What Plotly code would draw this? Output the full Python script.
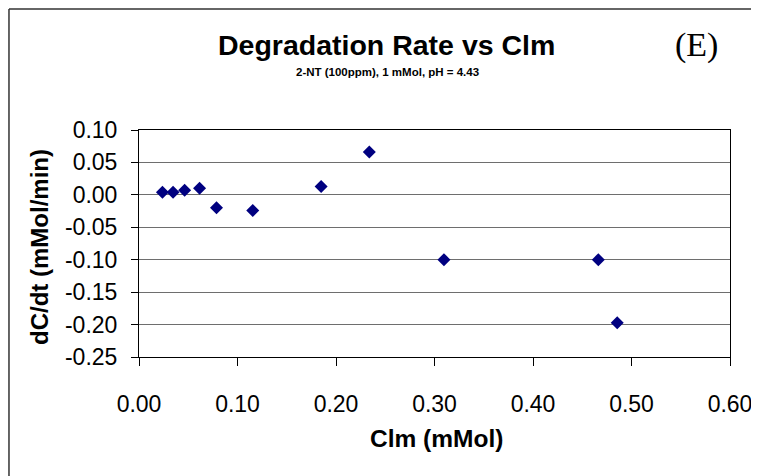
import plotly.graph_objects as go

clm = [0.0238, 0.0346, 0.0463, 0.0615, 0.0787, 0.1155, 0.1849, 0.2338, 0.3096, 0.4663, 0.4855]
rate = [0.004, 0.004, 0.007, 0.010, -0.020, -0.024, 0.013, 0.066, -0.100, -0.100, -0.197]
x_ticks = [0.0, 0.1, 0.2, 0.3, 0.4, 0.5, 0.6]
x_tick_text = ["0.00", "0.10", "0.20", "0.30", "0.40", "0.50", "0.60"]
y_ticks = [0.10, 0.05, 0.0, -0.05, -0.10, -0.15, -0.20, -0.25]
y_tick_text = ["0.10", "0.05", "0.00", "-0.05", "-0.10", "-0.15", "-0.20", "-0.25"]

FONT = "Liberation Sans, Arial, sans-serif"

fig = go.Figure()
fig.add_trace(go.Scatter(
    x=clm, y=rate, mode="markers",
    marker=dict(symbol="diamond", size=10, color="#000080"),
    showlegend=False,
))

border = dict(color="#333333", width=1.5)

fig.update_layout(
    width=751, height=468,
    margin=dict(l=131, r=29, t=122, b=119, autoexpand=False),
    paper_bgcolor="white", plot_bgcolor="white",
    font=dict(family=FONT, color="black"),
    xaxis=dict(
        range=[0, 0.6], tickvals=x_ticks, ticktext=x_tick_text,
        showgrid=False, zeroline=False,
        showline=True, linecolor="black", linewidth=1, mirror=True,
        ticks="outside", ticklen=8, tickcolor="black",
        tickfont=dict(size=23, family=FONT), ticklabelstandoff=18,
    ),
    yaxis=dict(
        range=[-0.25, 0.10], tickvals=y_ticks, ticktext=y_tick_text,
        showgrid=True, gridcolor="#6e6e6e", gridwidth=1, zeroline=False,
        showline=True, linecolor="black", linewidth=1, mirror=True,
        ticks="outside", ticklen=7, tickcolor="black",
        tickfont=dict(size=23, family=FONT), ticklabelstandoff=9,
    ),
    shapes=[
        dict(type="line", xref="paper", yref="paper",
             x0=-0.22, x1=1.1, y0=1.533, y1=1.533, line=border, layer="below"),
        dict(type="line", xref="paper", yref="paper",
             x0=-0.22, x1=-0.22, y0=-0.6, y1=1.533, line=border, layer="below"),
    ],
    annotations=[
        dict(text="<b>Degradation Rate vs Clm</b>", xref="paper", yref="paper",
             x=0.4196, y=1.374, showarrow=False, xanchor="center", yanchor="middle",
             font=dict(size=28.5, family=FONT)),
        dict(text="<b>2-NT (100ppm), 1 mMol, pH = 4.43</b>", xref="paper", yref="paper",
             x=0.421, y=1.2555, showarrow=False, xanchor="center", yanchor="middle",
             font=dict(size=11.5, family=FONT)),
        dict(text="(E)", xref="paper", yref="paper",
             x=0.944, y=1.374, showarrow=False, xanchor="center", yanchor="middle",
             font=dict(size=34, family="Liberation Serif, Times New Roman, serif")),
        dict(text="<b>Clm (mMol)</b>", xref="paper", yref="paper",
             x=0.504, y=-0.361, showarrow=False, xanchor="center", yanchor="middle",
             font=dict(size=24.5, family=FONT)),
        dict(text="<b>dC/dt (mMol/min)</b>", xref="paper", yref="paper",
             x=-0.1675, y=0.4846, showarrow=False, xanchor="center", yanchor="middle",
             textangle=-90, font=dict(size=24, family=FONT)),
    ],
)

fig.write_html("out.html")
